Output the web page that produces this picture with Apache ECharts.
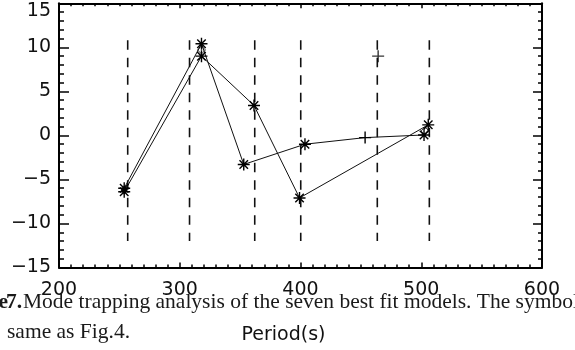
<!DOCTYPE html>
<html>
<head>
<meta charset="utf-8">
<script src="https://cdn.jsdelivr.net/npm/echarts@6/dist/echarts.min.js"></script>
<style>
html,body{margin:0;padding:0;background:#fff;}
#c{width:575px;height:350px;}
</style>
</head>
<body>
<div id="c"></div>
<script>
// ---- data ----
const xTicks = [200, 300, 400, 500, 600];
const yTicks = [-15, -10, -5, 0, 5, 10, 15];

const modelAPeriods = [254, 318, 353, 403.7, 453.5, 502.3];
const modelAValues  = [-6.0, 10.4, -3.3, -1.0, -0.25, 0.05];
const modelASymbols = ['asterisk', 'asterisk', 'asterisk', 'asterisk', 'plus', 'asterisk'];

const modelBPeriods = [254, 318, 361.5, 399.2, 505.8];
const modelBValues  = [-6.4, 9.0, 3.4, -7.1, 1.2];
const modelBSymbols = ['asterisk', 'asterisk', 'asterisk', 'asterisk', 'asterisk'];

const diamondPeriods = [318, 503.2];
const diamondValues  = [9.7, 0.5];

const plusPeriods = [464.3];
const plusValues  = [9.0];

const trapPeriods = [256.9, 308.1, 362.1, 400.2, 463.6, 506.7];
const trapTop = 10.8;
const trapBottom = -12.0;

const captionWord = 'Figure';
const captionNumber = '7.';
const captionLine1 = 'Mode trapping analysis of the seven best fit models. The symbols';
const captionLine2 = 'same as Fig.4.';
const xName = 'Period(s)';

// ---- symbols ----
const SYM = {
  asterisk: 'path://M0,-10L0,10M-10,0L10,0M-7.07,-7.07L7.07,7.07M-7.07,7.07L7.07,-7.07',
  plus: 'path://M0,-10L0,10M-10,0L10,0',
  diamond: 'path://M0,-10L10,0L0,10L-10,0Z'
};
const SYMSIZE = {asterisk: 12, plus: 12, diamond: 8};

function pts(px, py, syms) {
  return px.map((p, i) => ({
    value: [p, py[i]],
    symbol: SYM[syms[i]],
    symbolSize: SYMSIZE[syms[i]]
  }));
}

const markerStyle = {color: 'rgba(0,0,0,0)', borderColor: '#000', borderWidth: 1.4};

const series = [];
trapPeriods.forEach(p => {
  series.push({
    type: 'line',
    data: [[p, trapTop], [p, trapBottom]],
    symbol: 'none',
    silent: true,
    lineStyle: {color: '#111', width: 1.6, type: [9.5, 8]},
    z: 1
  });
});
series.push({
  type: 'line',
  data: pts(modelAPeriods, modelAValues, modelASymbols),
  lineStyle: {color: '#111', width: 1},
  itemStyle: markerStyle,
  symbolKeepAspect: true,
  z: 3
});
series.push({
  type: 'line',
  data: pts(modelBPeriods, modelBValues, modelBSymbols),
  lineStyle: {color: '#111', width: 1},
  itemStyle: markerStyle,
  symbolKeepAspect: true,
  z: 3
});
series.push({
  type: 'scatter',
  data: pts(diamondPeriods, diamondValues, diamondPeriods.map(() => 'diamond')),
  itemStyle: {color: 'rgba(0,0,0,0)', borderColor: '#000', borderWidth: 1},
  z: 3
});
series.push({
  type: 'scatter',
  data: pts(plusPeriods, plusValues, plusPeriods.map(() => 'plus')),
  itemStyle: markerStyle,
  z: 3
});

const axisLineStyle = {color: '#000', width: 2};
const fontLabel = {fontFamily: 'DejaVu Sans', fontSize: 19, color: '#111'};

const chart = echarts.init(document.getElementById('c'), null, {renderer: 'canvas'});
chart.setOption({
  backgroundColor: '#fff',
  animation: false,
  grid: {left: 59, right: 33, top: 3.3, bottom: 82.5, containLabel: false},
  xAxis: [{
    type: 'value', min: xTicks[0], max: xTicks[xTicks.length - 1], interval: 100,
    position: 'bottom',
    axisLine: {show: true, onZero: false, lineStyle: axisLineStyle},
    axisTick: {show: true, inside: true, length: 5, lineStyle: {color: '#000', width: 1.5}},
    minorTick: {show: true, splitNumber: 10, length: 3, lineStyle: {color: '#000', width: 1.5}},
    splitLine: {show: false},
    axisLabel: Object.assign({margin: 13}, fontLabel),
    name: xName, nameLocation: 'middle', nameGap: 58,
    nameTextStyle: {fontFamily: 'DejaVu Sans', fontSize: 19, color: '#111', padding: [0, 34, 0, 0]}
  }, {
    type: 'value', min: xTicks[0], max: xTicks[xTicks.length - 1], interval: 100,
    position: 'top',
    axisLine: {show: true, onZero: false, lineStyle: axisLineStyle},
    axisTick: {show: true, inside: true, length: 5, lineStyle: {color: '#000', width: 1.5}},
    minorTick: {show: true, splitNumber: 10, length: 3, lineStyle: {color: '#000', width: 1.5}},
    splitLine: {show: false},
    axisLabel: {show: false}
  }],
  yAxis: [{
    type: 'value', min: yTicks[0], max: yTicks[yTicks.length - 1], interval: 5,
    position: 'left',
    axisLine: {show: true, onZero: false, lineStyle: axisLineStyle},
    axisTick: {show: true, inside: true, length: 10, lineStyle: {color: '#000', width: 1.5}},
    minorTick: {show: true, splitNumber: 5, length: 5, lineStyle: {color: '#000', width: 1.5}},
    splitLine: {show: false},
    axisLabel: Object.assign({
      margin: 8,
      formatter: v => {
        const s = String(v).replace('-', '\u2212');
        return v === yTicks[yTicks.length - 1] ? '{t|' + s + '}' : s;
      },
      rich: {t: {fontFamily: 'DejaVu Sans', fontSize: 19, color: '#111', padding: [16, 0, 0, 0]}}
    }, fontLabel)
  }, {
    type: 'value', min: yTicks[0], max: yTicks[yTicks.length - 1], interval: 5,
    position: 'right',
    axisLine: {show: true, onZero: false, lineStyle: axisLineStyle},
    axisTick: {show: true, inside: true, length: 9, lineStyle: {color: '#000', width: 1.5}},
    minorTick: {show: true, splitNumber: 5, length: 4, lineStyle: {color: '#000', width: 1.5}},
    splitLine: {show: false},
    axisLabel: {show: false}
  }],
  series: series,
  graphic: [{
    type: 'text', x: 8, y: 291, z: 100,
    style: {
      text: captionWord, align: 'right', verticalAlign: 'top',
      font: 'bold 21.5px "Liberation Serif"', fill: '#1a1a1a'
    }
  }, {
    type: 'text', x: 22, y: 291, z: 100,
    style: {
      text: captionNumber, align: 'right', verticalAlign: 'top',
      font: 'bold 21.5px "Liberation Serif"', fill: '#1a1a1a'
    }
  }, {
    type: 'text', x: 23, y: 291, z: 100,
    style: {
      text: captionLine1, align: 'left', verticalAlign: 'top',
      font: '21.5px "Liberation Serif"', fill: '#1a1a1a'
    }
  }, {
    type: 'text', x: 7, y: 321, z: 100,
    style: {text: captionLine2, align: 'left', verticalAlign: 'top', font: '21.5px "Liberation Serif"', fill: '#1a1a1a'}
  }]
});
</script>
</body>
</html>
